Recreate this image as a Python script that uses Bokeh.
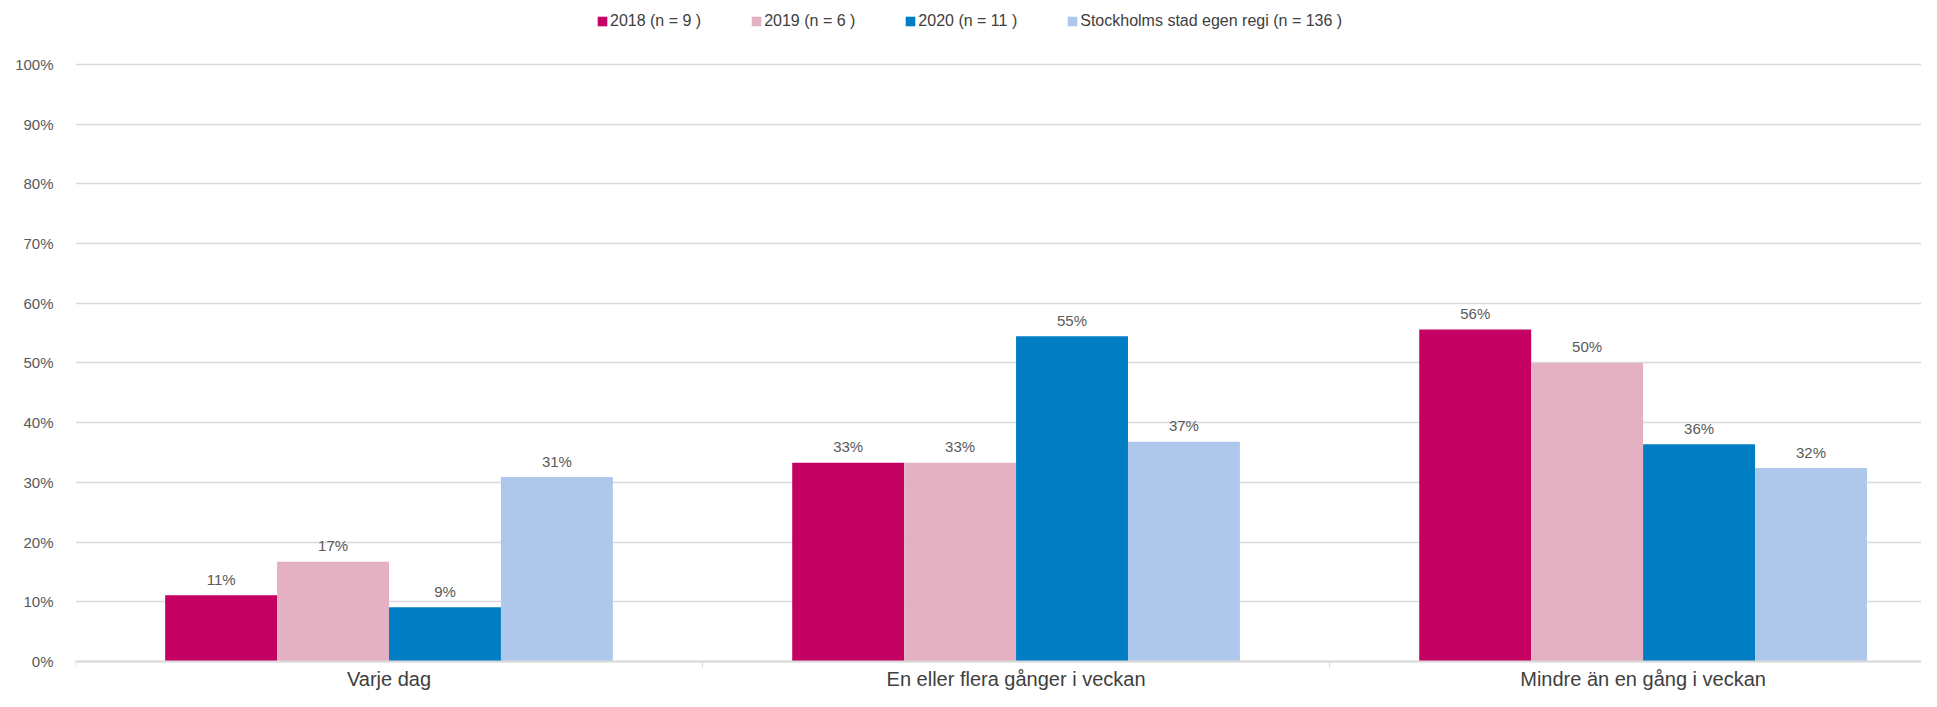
import math
import numpy as np
from bokeh.plotting import figure
from bokeh.models import (ColumnDataSource, Range1d, FixedTicker, Legend, LegendItem,
                          PrintfTickFormatter, Span)
from bokeh.core.properties import value
from bokeh.embed import file_html
from bokeh.resources import INLINE

# ---- data ----
categories = ["Varje dag", "En eller flera gånger i veckan", "Mindre än en gång i veckan"]
series_names = ["2018 (n = 9 )", "2019 (n = 6 )", "2020 (n = 11 )",
                "Stockholms stad egen regi (n = 136 )"]
v2018 = [11.1, 33.3, 55.6]
v2019 = [16.7, 33.3, 50.0]
v2020 = [9.1, 54.5, 36.4]
vsthlm = [30.9, 36.8, 32.4]
y_ticks = [0, 10, 20, 30, 40, 50, 60, 70, 80, 90, 100]

series_values = [v2018, v2019, v2020, vsthlm]
colors = ["#C40062", "#E3B1C1", "#007DC3", "#ADC8EB"]

FONT = "Liberation Sans"
W, H = 1921, 691


def pct(v):
    return f"{int(math.floor(v + 0.5))}%"


p = figure(width=W, height=H, output_backend="svg", toolbar_location=None,
           x_range=Range1d(0, 2.944), y_range=Range1d(-5.025, 110.72),
           min_border_left=75, min_border_right=0, min_border_top=0,
           min_border_bottom=0)
p.outline_line_color = None
p.background_fill_color = "white"
p.border_fill_color = "white"

n_series = len(series_values)
bar_w = 0.1785
offsets = (np.arange(n_series) - (n_series - 1) / 2) * bar_w
cat_centers = np.arange(len(categories)) + 0.5
boundaries = np.arange(len(categories) + 1)

# grid
p.xgrid.grid_line_color = None
p.ygrid.ticker = FixedTicker(ticks=y_ticks)
p.ygrid.grid_line_color = "#D9D9D9"
p.ygrid.grid_line_width = 1.5

items = []
for name, vals, col, off in zip(series_names, series_values, colors, offsets):
    src = ColumnDataSource(dict(
        x=cat_centers + off,
        top=vals,
        lbl=[pct(v) for v in vals],
    ))
    r = p.vbar(x="x", top="top", width=bar_w, bottom=0, source=src,
               fill_color=col, line_color=None)
    p.text(x="x", y="top", text="lbl", source=src, text_align="center",
           text_baseline="middle", y_offset=-16, text_font=value(FONT),
           text_font_size="15px", text_color="#595959")
    items.append(LegendItem(label=name, renderers=[r]))

# category axis (baseline, boundary ticks, labels)
p.add_layout(Span(location=0, dimension="width", line_color="#D9D9D9", line_width=2))
bsrc = ColumnDataSource(dict(x=boundaries, y0=np.zeros(len(boundaries)),
                             y1=np.full(len(boundaries), -1.0)))
p.segment(x0="x", x1="x", y0="y0", y1="y1", source=bsrc, line_color="#D9D9D9", line_width=1)
csrc = ColumnDataSource(dict(x=cat_centers, y=np.zeros(len(categories)), t=categories))
p.text(x="x", y="y", text="t", source=csrc, text_align="center", text_baseline="middle",
       y_offset=17, text_font=value(FONT), text_font_size="20px", text_color="#404040")

legend = Legend(items=items, orientation="horizontal", location=(521, 661),
                glyph_width=12, glyph_height=12, label_standoff=2, spacing=49,
                padding=0, margin=0, border_line_color=None,
                background_fill_alpha=0, label_text_font=FONT,
                label_text_font_size="16px", label_text_color="#404040")
p.add_layout(legend)

p.xaxis.visible = False

# y axis
ya = p.yaxis[0]
ya.ticker = FixedTicker(ticks=y_ticks)
ya.formatter = PrintfTickFormatter(format="%d%%")
ya.axis_line_color = None
ya.major_tick_line_color = None
ya.minor_tick_line_color = None
ya.major_label_standoff = 16
ya.major_label_text_font = FONT
ya.major_label_text_font_size = "15px"
ya.major_label_text_color = "#595959"

open("out.html", "w").write(file_html(p, INLINE))
